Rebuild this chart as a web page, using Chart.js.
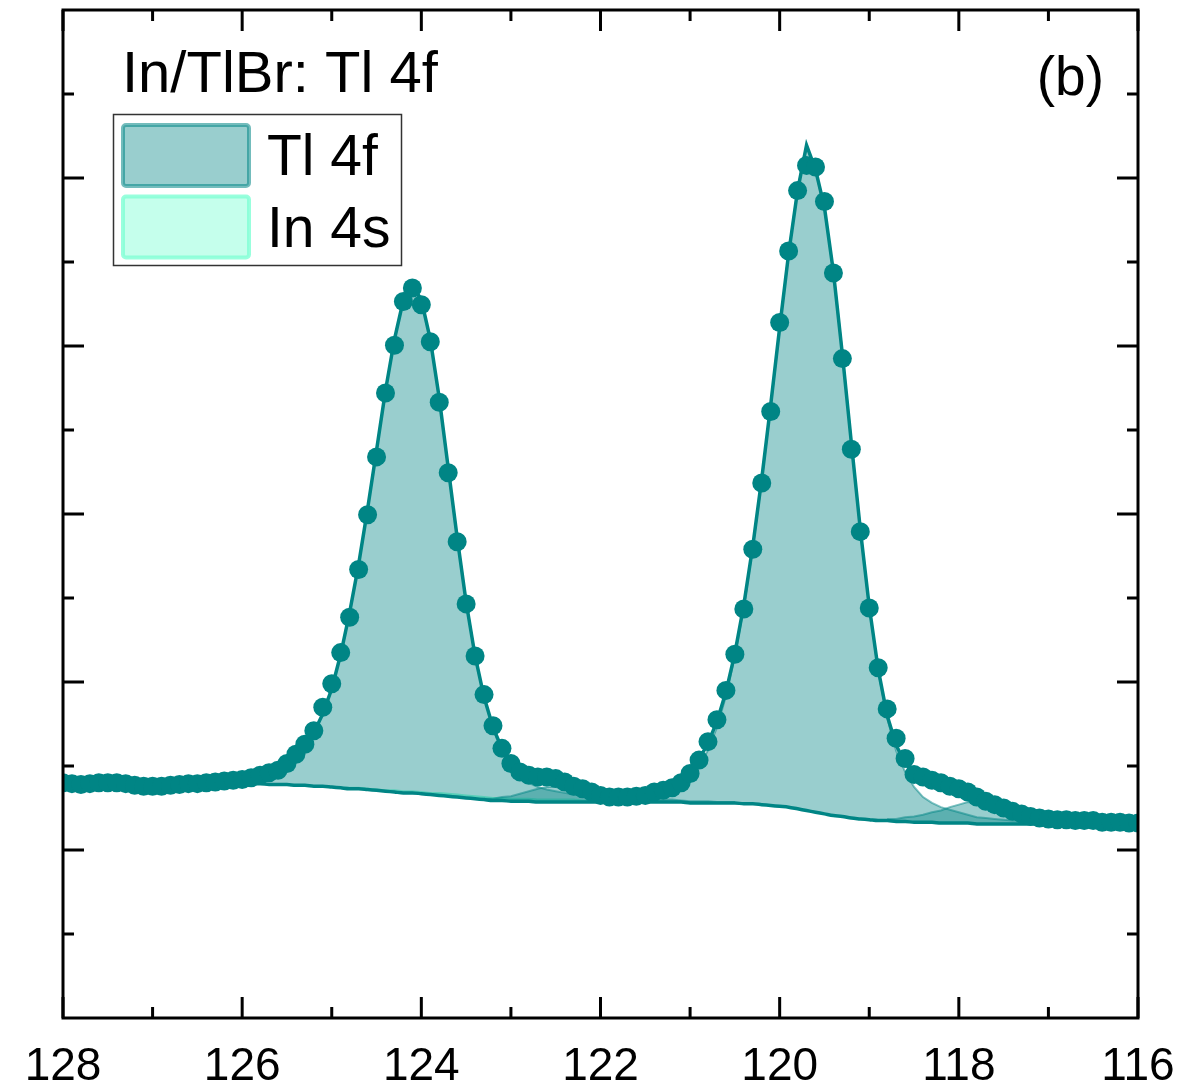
<!DOCTYPE html>
<html>
<head>
<meta charset="utf-8">
<title>In/TlBr: Tl 4f</title>
<script src="https://cdn.jsdelivr.net/npm/chart.js@4.4.1/dist/chart.umd.min.js"></script>
<style>
  html, body { margin: 0; padding: 0; background: #fff; }
  canvas { display: block; }
</style>
</head>
<body>
<canvas id="chart" width="1184" height="1090"></canvas>
<script>
// binding energy grid (eV), 0.1 eV steps
const energy = [
  128.0, 127.9, 127.8, 127.7, 127.6, 127.5, 127.4, 127.3, 127.2, 127.1,
  127.0, 126.9, 126.8, 126.7, 126.6, 126.5, 126.4, 126.3, 126.2, 126.1,
  126.0, 125.9, 125.8, 125.7, 125.6, 125.5, 125.4, 125.3, 125.2, 125.1,
  125.0, 124.9, 124.8, 124.7, 124.6, 124.5, 124.4, 124.3, 124.2, 124.1,
  124.0, 123.9, 123.8, 123.7, 123.6, 123.5, 123.4, 123.3, 123.2, 123.1,
  123.0, 122.9, 122.8, 122.7, 122.6, 122.5, 122.4, 122.3, 122.2, 122.1,
  122.0, 121.9, 121.8, 121.7, 121.6, 121.5, 121.4, 121.3, 121.2, 121.1,
  121.0, 120.9, 120.8, 120.7, 120.6, 120.5, 120.4, 120.3, 120.2, 120.1,
  120.0, 119.9, 119.8, 119.7, 119.6, 119.5, 119.4, 119.3, 119.2, 119.1,
  119.0, 118.9, 118.8, 118.7, 118.6, 118.5, 118.4, 118.3, 118.2, 118.1,
  118.0, 117.9, 117.8, 117.7, 117.6, 117.5, 117.4, 117.3, 117.2, 117.1,
  117.0, 116.9, 116.8, 116.7, 116.6, 116.5, 116.4, 116.3, 116.2, 116.1,
  116.0
];

// measured intensity (arb. units)
const counts = [
  2.80, 2.79, 2.78, 2.79, 2.80, 2.80, 2.80, 2.79, 2.77, 2.76,
  2.76, 2.76, 2.77, 2.78, 2.79, 2.79, 2.80, 2.81, 2.82, 2.83,
  2.84, 2.86, 2.89, 2.92, 2.95, 3.03, 3.14, 3.26, 3.42, 3.70,
  3.98, 4.35, 4.77, 5.34, 5.99, 6.68, 7.44, 8.01, 8.53, 8.69,
  8.49, 8.05, 7.33, 6.49, 5.67, 4.93, 4.31, 3.85, 3.48, 3.21,
  3.03, 2.93, 2.89, 2.87, 2.87, 2.85, 2.81, 2.76, 2.73, 2.69,
  2.65, 2.63, 2.63, 2.63, 2.64, 2.65, 2.69, 2.71, 2.74, 2.80,
  2.91, 3.07, 3.29, 3.55, 3.90, 4.33, 4.87, 5.58, 6.37, 7.22,
  8.28, 9.13, 9.85, 10.15, 10.13, 9.72, 8.87, 7.85, 6.77, 5.79,
  4.88, 4.17, 3.68, 3.33, 3.09, 2.90, 2.87, 2.83, 2.80, 2.76,
  2.73, 2.69, 2.63, 2.58, 2.54, 2.50, 2.46, 2.43, 2.40, 2.38,
  2.37, 2.36, 2.36, 2.35, 2.35, 2.35, 2.33, 2.33, 2.33, 2.32,
  2.32
];

// fit envelope
const envelope = [
  2.80, 2.80, 2.80, 2.80, 2.80, 2.80, 2.80, 2.80, 2.80, 2.80,
  2.80, 2.80, 2.81, 2.81, 2.81, 2.82, 2.82, 2.83, 2.84, 2.85,
  2.86, 2.88, 2.90, 2.93, 2.97, 3.03, 3.12, 3.24, 3.40, 3.62,
  3.92, 4.33, 4.83, 5.40, 6.06, 6.76, 7.47, 8.08, 8.55, 8.72,
  8.55, 8.08, 7.38, 6.55, 5.72, 4.95, 4.31, 3.82, 3.46, 3.21,
  3.05, 2.96, 2.91, 2.88, 2.86, 2.84, 2.81, 2.77, 2.73, 2.70,
  2.67, 2.65, 2.64, 2.64, 2.65, 2.67, 2.70, 2.74, 2.79, 2.86,
  2.95, 3.08, 3.27, 3.53, 3.88, 4.34, 4.92, 5.62, 6.42, 7.30,
  8.22, 9.10, 9.85, 10.39, 10.10, 9.65, 8.88, 7.90, 6.85, 5.82,
  4.90, 4.15, 3.60, 3.25, 3.03, 2.91, 2.85, 2.81, 2.78, 2.74,
  2.70, 2.66, 2.62, 2.58, 2.53, 2.49, 2.45, 2.42, 2.40, 2.38,
  2.37, 2.36, 2.35, 2.35, 2.34, 2.34, 2.33, 2.33, 2.33, 2.32,
  2.32
];

// Shirley background
const background = [
  2.80, 2.80, 2.80, 2.80, 2.80, 2.80, 2.80, 2.80, 2.80, 2.80,
  2.80, 2.80, 2.80, 2.80, 2.80, 2.80, 2.80, 2.79, 2.79, 2.79,
  2.79, 2.79, 2.79, 2.78, 2.78, 2.78, 2.77, 2.77, 2.76, 2.76,
  2.75, 2.74, 2.73, 2.73, 2.72, 2.71, 2.70, 2.69, 2.68, 2.68,
  2.67, 2.66, 2.65, 2.64, 2.63, 2.62, 2.61, 2.60, 2.59, 2.59,
  2.58, 2.58, 2.58, 2.57, 2.57, 2.57, 2.57, 2.57, 2.57, 2.57,
  2.57, 2.57, 2.57, 2.57, 2.57, 2.57, 2.57, 2.57, 2.57, 2.57,
  2.56, 2.56, 2.56, 2.56, 2.56, 2.56, 2.55, 2.55, 2.54, 2.53,
  2.52, 2.51, 2.49, 2.47, 2.45, 2.43, 2.41, 2.40, 2.38, 2.37,
  2.36, 2.35, 2.35, 2.34, 2.34, 2.33, 2.33, 2.33, 2.32, 2.32,
  2.32, 2.32, 2.31, 2.31, 2.31, 2.31, 2.31, 2.31, 2.31, 2.31,
  2.31, 2.31, 2.31, 2.31, 2.31, 2.31, 2.31, 2.31, 2.31, 2.31,
  2.31
];

// component heights above background, each starting at the given energy
const tl52Start = 126.5;
const tl52 = [
  0.02, 0.02, 0.03, 0.03, 0.04, 0.05, 0.07, 0.09, 0.12, 0.16,
  0.23, 0.33, 0.47, 0.64, 0.86, 1.17, 1.59, 2.10, 2.67, 3.34,
  4.05, 4.77, 5.39, 5.87, 6.04, 5.88, 5.42, 4.73, 3.91, 3.09,
  2.34, 1.71, 1.22, 0.85, 0.58, 0.40, 0.29, 0.22, 0.18, 0.15,
  0.13, 0.11, 0.09, 0.08, 0.07, 0.06, 0.05, 0.05, 0.04, 0.04,
  0.04, 0.03, 0.03, 0.03, 0.02, 0.02, 0.02, 0.02, 0.01, 0.01,
  0.01
];
const tl72Start = 121.6;
const tl72 = [
  0.04, 0.05, 0.07, 0.10, 0.14, 0.20, 0.29, 0.43, 0.63, 0.90,
  1.27, 1.75, 2.34, 3.05, 3.86, 4.76, 5.70, 6.60, 7.37, 7.92,
  7.64, 7.21, 6.48, 5.52, 4.48, 3.45, 2.54, 1.78, 1.22, 0.84,
  0.59, 0.42, 0.30, 0.23, 0.19, 0.16, 0.13, 0.10, 0.08, 0.07,
  0.06, 0.05, 0.04, 0.04, 0.03, 0.03, 0.03, 0.02, 0.02, 0.02,
  0.02, 0.01
];
const tlMetal52Start = 123.3;
const tlMetal52 = [
  0.01, 0.02, 0.04, 0.06, 0.09, 0.12, 0.16, 0.18, 0.18, 0.16,
  0.13, 0.09, 0.06, 0.04, 0.02, 0.01
];
const tlMetal72Start = 118.8;
const tlMetal72 = [
  0.02, 0.03, 0.05, 0.07, 0.09, 0.12, 0.15, 0.19, 0.22, 0.25,
  0.25, 0.22, 0.19, 0.15, 0.12, 0.09, 0.06, 0.04, 0.03, 0.02
];
const in4sStart = 125.0;
const in4s = [
  0.00, 0.00, 0.01, 0.01, 0.01, 0.01, 0.01, 0.02, 0.02, 0.02,
  0.02, 0.02, 0.03, 0.03, 0.03, 0.03, 0.03, 0.03, 0.03, 0.03,
  0.03, 0.03, 0.03, 0.03, 0.03, 0.03, 0.03, 0.03, 0.02, 0.02,
  0.02, 0.02, 0.02, 0.01, 0.01, 0.01, 0.01, 0.01, 0.00, 0.00,
  0.00
];

const xLabels = [128, 126, 124, 122, 120, 118, 116];
const xMinor = [127, 125, 123, 121, 119, 117];
const yMajor = [2, 4, 6, 8, 10];
const yMinor = [1, 3, 5, 7, 9, 11];
const legendLabels = ['Tl 4f', 'In 4s'];

const TEAL = '#008585';
const TL_FILL = 'rgba(0, 133, 133, 0.4)';
const TL_EDGE = 'rgba(0, 133, 133, 0.5)';
const IN_FILL = 'rgba(127, 255, 212, 0.45)';
const IN_EDGE = 'rgba(127, 255, 212, 0.8)';
const FONT = '"Liberation Sans", Arial, sans-serif';

const pts = (ys) => ys.map((y, i) => ({ x: energy[i], y }));
const onBackground = (start, heights) => {
  const i0 = energy.indexOf(start);
  return heights.map((h, k) => ({ x: energy[i0 + k], y: background[i0 + k] + h }));
};

const BG_INDEX = 2;
const component = (data, fill, edge) => ({
  data,
  showLine: true,
  pointRadius: 0,
  borderWidth: 2,
  borderColor: edge,
  backgroundColor: fill,
  fill: BG_INDEX,
  tension: 0,
});

const frameAndTicks = {
  id: 'frameAndTicks',
  afterDatasetsDraw(chart) {
    const { ctx, chartArea: a, scales: { x, y } } = chart;
    ctx.save();
    ctx.strokeStyle = '#000';
    ctx.lineWidth = 3;
    ctx.beginPath();
    const xTick = (v, len) => {
      const px = x.getPixelForValue(v);
      ctx.moveTo(px, a.bottom); ctx.lineTo(px, a.bottom - len);
      ctx.moveTo(px, a.top); ctx.lineTo(px, a.top + len);
    };
    const yTick = (v, len) => {
      const py = y.getPixelForValue(v);
      ctx.moveTo(a.left, py); ctx.lineTo(a.left + len, py);
      ctx.moveTo(a.right, py); ctx.lineTo(a.right - len, py);
    };
    xLabels.forEach((v) => xTick(v, 21));
    xMinor.forEach((v) => xTick(v, 11));
    yMajor.forEach((v) => yTick(v, 21));
    yMinor.forEach((v) => yTick(v, 11));
    ctx.stroke();
    ctx.strokeRect(a.left, a.top, a.right - a.left, a.bottom - a.top);
    ctx.restore();
  },
};

const annotations = {
  id: 'annotations',
  afterDraw(chart) {
    const { ctx } = chart;
    ctx.save();
    ctx.fillStyle = '#000';
    ctx.textBaseline = 'alphabetic';
    ctx.font = `58px ${FONT}`;
    ctx.textAlign = 'left';
    ctx.fillText('In/TlBr: Tl 4f', 122, 92);
    ctx.font = `55px ${FONT}`;
    ctx.textAlign = 'right';
    ctx.fillText('(b)', 1104, 95);

    // legend
    ctx.fillStyle = '#fff';
    ctx.fillRect(113.5, 114.5, 288, 151);
    ctx.strokeStyle = '#333';
    ctx.lineWidth = 1.5;
    ctx.strokeRect(113.5, 114.5, 288, 151);
    const swatches = [[TL_FILL, 'rgba(0, 133, 133, 0.55)'], [IN_FILL, IN_EDGE]];
    legendLabels.forEach((label, i) => {
      const top = 125 + i * 71.5;
      ctx.beginPath();
      ctx.roundRect(123, top, 126, 61, 3);
      ctx.fillStyle = swatches[i][0];
      ctx.fill();
      ctx.strokeStyle = swatches[i][1];
      ctx.lineWidth = 4;
      ctx.stroke();
      ctx.fillStyle = '#000';
      ctx.font = `57px ${FONT}`;
      ctx.textAlign = 'left';
      ctx.fillText(label, 267, top + 50);
    });
    ctx.restore();
  },
};

new Chart(document.getElementById('chart'), {
  type: 'scatter',
  data: {
    datasets: [
      {
        label: 'data',
        data: pts(counts),
        pointRadius: 9.5,
        pointBorderWidth: 0,
        pointBackgroundColor: TEAL,
        showLine: false,
        clip: 0,
      },
      {
        label: 'envelope',
        data: pts(envelope),
        showLine: true,
        pointRadius: 0,
        borderWidth: 3.5,
        borderColor: TEAL,
        tension: 0,
      },
      {
        label: 'background',
        data: pts(background),
        showLine: true,
        pointRadius: 0,
        borderWidth: 3.5,
        borderColor: TEAL,
        cubicInterpolationMode: 'monotone',
      },
      component(onBackground(tl52Start, tl52), TL_FILL, TL_EDGE),
      component(onBackground(tl72Start, tl72), TL_FILL, TL_EDGE),
      component(onBackground(tlMetal52Start, tlMetal52), TL_FILL, TL_EDGE),
      component(onBackground(tlMetal72Start, tlMetal72), TL_FILL, TL_EDGE),
      component(onBackground(in4sStart, in4s), IN_FILL, IN_EDGE),
    ],
  },
  options: {
    responsive: false,
    animation: false,
    events: [],
    layout: { padding: { left: 63, right: 46, top: 10, bottom: 0 } },
    plugins: {
      legend: { display: false },
      tooltip: { enabled: false },
    },
    scales: {
      x: {
        type: 'linear',
        reverse: true,
        min: 116,
        max: 128,
        grid: { display: false, drawTicks: false },
        border: { display: false },
        afterBuildTicks: (s) => { s.ticks = xLabels.map((v) => ({ value: v })); },
        afterFit: (s) => {
          s.height = 72;
          s.paddingLeft = 0;
          s.paddingRight = 0;
        },
        ticks: {
          autoSkip: false,
          maxRotation: 0,
          padding: 22,
          color: '#000',
          font: { family: FONT, size: 46 },
        },
      },
      y: {
        type: 'linear',
        min: 0,
        max: 12,
        display: false,
      },
    },
  },
  plugins: [frameAndTicks, annotations],
});
</script>
</body>
</html>
